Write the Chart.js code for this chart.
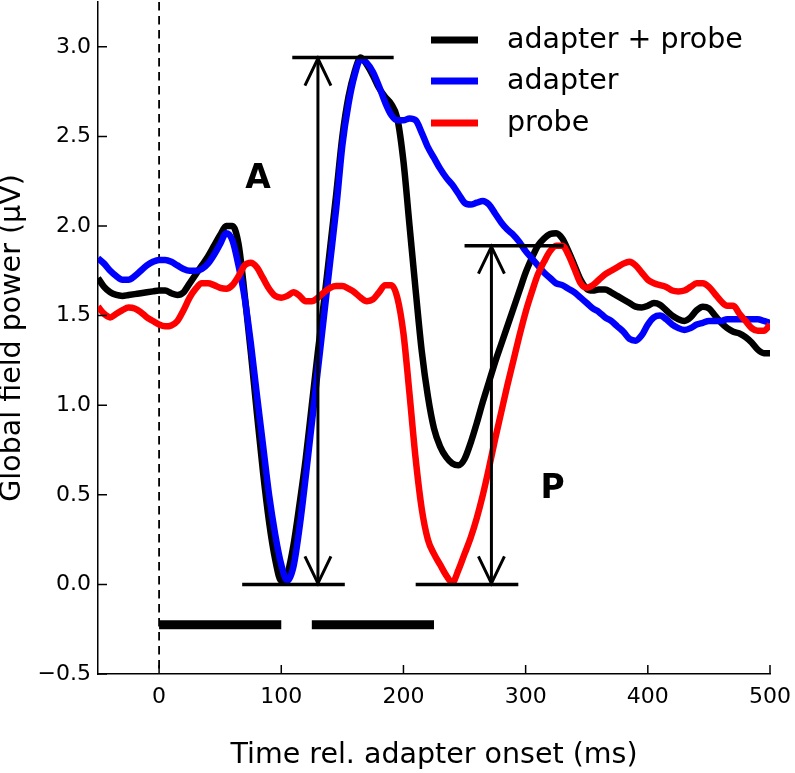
<!DOCTYPE html>
<html>
<head>
<meta charset="utf-8">
<script src="https://cdn.jsdelivr.net/npm/chart.js@4.4.1/dist/chart.umd.min.js"></script>
<style>
  html, body { margin: 0; padding: 0; background: #fff; }
</style>
</head>
<body>
<canvas id="gfp" width="795" height="773"></canvas>
<script>
// ===== Data =====
const timeMs = [
  -50, -45, -40, -35, -30, -25, -20, -15, -10, -5,
  0, 5, 10, 15, 20, 25, 30, 35, 40, 45,
  50, 55, 60, 65, 70, 75, 80, 85, 90, 95,
  100, 105, 110, 115, 120, 125, 130, 135, 140, 145,
  150, 155, 160, 165, 170, 175, 180, 185, 190, 195,
  200, 205, 210, 215, 220, 225, 230, 235, 240, 245,
  250, 255, 260, 265, 270, 275, 280, 285, 290, 295,
  300, 305, 310, 315, 320, 325, 330, 335, 340, 345,
  350, 355, 360, 365, 370, 375, 380, 385, 390, 395,
  400, 405, 410, 415, 420, 425, 430, 435, 440, 445,
  450, 455, 460, 465, 470, 475, 480, 485, 490, 495,
  500
];

const adapterProbe = [
  1.71, 1.66, 1.63, 1.615, 1.61, 1.615, 1.62, 1.625, 1.63, 1.635,
  1.64, 1.64, 1.625, 1.615, 1.63, 1.68, 1.73, 1.78, 1.83, 1.89,
  1.95, 2.00, 2.00, 1.90, 1.62, 1.30, 0.96, 0.63, 0.35, 0.14,
  0.02, 0.06, 0.22, 0.45, 0.70, 1.00, 1.30, 1.58, 1.88, 2.18,
  2.50, 2.72, 2.86, 2.94, 2.90, 2.84, 2.77, 2.72, 2.68, 2.60,
  2.36, 2.00, 1.64, 1.30, 1.05, 0.87, 0.77, 0.71, 0.675, 0.665,
  0.70, 0.79, 0.90, 1.02, 1.13, 1.24, 1.34, 1.44, 1.54, 1.64,
  1.74, 1.82, 1.89, 1.93, 1.955, 1.96, 1.93, 1.86, 1.78, 1.70,
  1.65, 1.64, 1.645, 1.645, 1.63, 1.61, 1.59, 1.57, 1.55, 1.545,
  1.555, 1.57, 1.56, 1.53, 1.50, 1.48, 1.47, 1.49, 1.53, 1.55,
  1.54, 1.50, 1.46, 1.43, 1.41, 1.40, 1.38, 1.35, 1.31, 1.29,
  1.29
];

const adapterOnly = [
  1.82, 1.79, 1.75, 1.72, 1.70, 1.70, 1.72, 1.75, 1.78, 1.80,
  1.81, 1.81, 1.80, 1.78, 1.76, 1.75, 1.75, 1.76, 1.79, 1.84,
  1.90, 1.96, 1.92, 1.78, 1.60, 1.35, 1.06, 0.78, 0.50, 0.28,
  0.11, 0.02, 0.10, 0.32, 0.60, 0.90, 1.20, 1.50, 1.80, 2.10,
  2.45, 2.68, 2.84, 2.93, 2.91, 2.86, 2.78, 2.69, 2.62, 2.59,
  2.59, 2.60, 2.59, 2.52, 2.44, 2.38, 2.32, 2.27, 2.23, 2.18,
  2.13, 2.12, 2.13, 2.14, 2.12, 2.07, 2.02, 1.98, 1.95, 1.91,
  1.86, 1.82, 1.78, 1.74, 1.71, 1.68, 1.67, 1.65, 1.63, 1.60,
  1.57, 1.54, 1.52, 1.49, 1.47, 1.44, 1.41, 1.37, 1.36, 1.39,
  1.45, 1.49, 1.50, 1.48, 1.45, 1.43, 1.42, 1.43, 1.45, 1.46,
  1.47, 1.47, 1.47, 1.48, 1.48, 1.48, 1.48, 1.48, 1.48, 1.47,
  1.46
];

const probeOnly = [
  1.55, 1.51, 1.49, 1.51, 1.53, 1.545, 1.54, 1.52, 1.49, 1.47,
  1.45, 1.44, 1.445, 1.47, 1.53, 1.60, 1.65, 1.68, 1.68, 1.67,
  1.655, 1.65, 1.67, 1.72, 1.78, 1.795, 1.77, 1.71, 1.65, 1.61,
  1.60, 1.61, 1.63, 1.61, 1.58, 1.58, 1.60, 1.63, 1.655, 1.665,
  1.665, 1.65, 1.63, 1.60, 1.58, 1.59, 1.63, 1.67, 1.67, 1.60,
  1.40, 1.06, 0.70, 0.42, 0.25, 0.17, 0.11, 0.05, 0.01, 0.08,
  0.17, 0.26, 0.37, 0.50, 0.65, 0.81, 0.96, 1.11, 1.25, 1.39,
  1.52, 1.63, 1.73, 1.80, 1.86, 1.89, 1.89, 1.84, 1.76, 1.68,
  1.655, 1.67, 1.70, 1.73, 1.75, 1.77, 1.79, 1.80, 1.78, 1.74,
  1.70, 1.68, 1.67, 1.66, 1.64, 1.635, 1.64, 1.66, 1.68, 1.68,
  1.66, 1.62, 1.58, 1.555, 1.555, 1.51, 1.47, 1.43, 1.415, 1.415,
  1.45
];

const seriesLabels = ['adapter + probe', 'adapter', 'probe'];
const seriesColors = ['#000000', '#0000ff', '#ff0000'];

const xTicks = [0, 100, 200, 300, 400, 500];
const yTicks = [-0.5, 0.0, 0.5, 1.0, 1.5, 2.0, 2.5, 3.0];

// amplitude markers (ms / µV)
const refLineY = [2.94, 0, 1.89, 0];
const refLineStart = [109, 68, 250, 210];
const refLineEnd = [192, 152, 331, 294];
const arrowX = [130, 272];
const arrowTop = [2.94, 1.89];
const peakNames = ['A', 'P'];
const peakNameX = [81, 322];
const peakNameY = [2.26, 0.53];

// stimulus bars (ms)
const barStart = [0, 125];
const barEnd = [100, 225];
const barLevel = -0.225;

const FONT = 'DejaVu Sans';

// ===== Extras: dashed onset, markers, inward ticks, legend =====
const figureExtras = {
    id: 'figureExtras',
    beforeDatasetsDraw(chart) {
        const { ctx, chartArea: a, scales: { x } } = chart;
        const x0 = x.getPixelForValue(0);
        ctx.save();
        ctx.strokeStyle = '#000';
        ctx.lineWidth = 1.8;
        ctx.setLineDash([8.5, 5.5]);
        ctx.beginPath();
        ctx.moveTo(x0, a.top);
        ctx.lineTo(x0, a.bottom);
        ctx.stroke();
        ctx.restore();
    },
    afterDatasetsDraw(chart) {
        const { ctx, scales: { x, y } } = chart;
        ctx.save();
        ctx.strokeStyle = '#000';
        ctx.lineCap = 'butt';

        // horizontal reference lines
        ctx.lineWidth = 3.5;
        refLineY.forEach((v, i) => {
            const py = y.getPixelForValue(v);
            ctx.beginPath();
            ctx.moveTo(x.getPixelForValue(refLineStart[i]), py);
            ctx.lineTo(x.getPixelForValue(refLineEnd[i]), py);
            ctx.stroke();
        });

        // double-headed arrows
        ctx.lineWidth = 3;
        ctx.lineJoin = 'miter';
        arrowX.forEach((t, i) => {
            const px = x.getPixelForValue(t);
            const top = y.getPixelForValue(arrowTop[i]);
            const bot = y.getPixelForValue(0);
            ctx.beginPath();
            ctx.moveTo(px, top);
            ctx.lineTo(px, bot);
            ctx.stroke();
            ctx.beginPath();
            ctx.moveTo(px - 13, top + 28);
            ctx.lineTo(px, top + 1);
            ctx.lineTo(px + 13, top + 28);
            ctx.moveTo(px - 13, bot - 28);
            ctx.lineTo(px, bot - 1);
            ctx.lineTo(px + 13, bot - 28);
            ctx.stroke();
        });

        // stimulus bars
        ctx.lineWidth = 9;
        barStart.forEach((t, i) => {
            const py = y.getPixelForValue(barLevel);
            ctx.beginPath();
            ctx.moveTo(x.getPixelForValue(t), py);
            ctx.lineTo(x.getPixelForValue(barEnd[i]), py);
            ctx.stroke();
        });

        // A / P labels
        ctx.fillStyle = '#000';
        ctx.font = 'bold 33px "' + FONT + '"';
        ctx.textAlign = 'center';
        ctx.textBaseline = 'middle';
        peakNames.forEach((s, i) => {
            ctx.fillText(s, x.getPixelForValue(peakNameX[i]), y.getPixelForValue(peakNameY[i]));
        });
        ctx.restore();
    },
    afterDraw(chart) {
        const { ctx, chartArea: a, scales: { x, y } } = chart;
        ctx.save();
        ctx.strokeStyle = '#000';
        ctx.lineWidth = 1.5;
        ctx.beginPath();
        xTicks.forEach(v => {
            const px = x.getPixelForValue(v);
            ctx.moveTo(px, a.bottom);
            ctx.lineTo(px, a.bottom - 9);
        });
        yTicks.forEach(v => {
            const py = y.getPixelForValue(v);
            ctx.moveTo(a.left, py);
            ctx.lineTo(a.left + 9, py);
        });
        ctx.stroke();

        // legend, upper right inside the axes
        const rows = [41, 82, 124];
        ctx.font = '28.5px "' + FONT + '"';
        ctx.textAlign = 'left';
        ctx.textBaseline = 'middle';
        ctx.fillStyle = '#000';
        ctx.lineWidth = 7;
        seriesLabels.forEach((s, i) => {
            ctx.strokeStyle = seriesColors[i];
            ctx.beginPath();
            ctx.moveTo(431, rows[i] - 1);
            ctx.lineTo(478, rows[i] - 1);
            ctx.stroke();
            ctx.fillText(s, 507, rows[i]);
        });
        ctx.restore();
    }
};

// ===== Chart =====
const seriesValues = [adapterProbe, adapterOnly, probeOnly];
const drawOrder = [3, 2, 1];

new Chart(document.getElementById('gfp').getContext('2d'), {
    type: 'line',
    data: {
        datasets: seriesValues.map((vals, i) => ({
            label: seriesLabels[i],
            data: timeMs.map((t, j) => ({ x: t, y: vals[j] })),
            borderColor: seriesColors[i],
            borderWidth: 6.5,
            pointRadius: 0,
            cubicInterpolationMode: 'monotone',
            borderJoinStyle: 'round',
            fill: false,
            order: drawOrder[i]
        }))
    },
    options: {
        responsive: false,
        animation: false,
        devicePixelRatio: 1,
        layout: { padding: { top: 2, right: 25, bottom: 0, left: 0 } },
        plugins: {
            legend: { display: false },
            tooltip: { enabled: false }
        },
        scales: {
            x: {
                type: 'linear',
                min: -50,
                max: 500,
                afterBuildTicks: (s) => { s.ticks = xTicks.map(v => ({ value: v })); },
                afterFit: (s) => {
                    s.height = 99;
                    s.paddingLeft = 0;
                    s.paddingRight = 0;
                },
                grid: { display: false, drawTicks: false },
                border: { display: true, color: '#000', width: 1.5 },
                ticks: {
                    color: '#000',
                    padding: 10,
                    maxRotation: 0,
                    font: { family: FONT, size: 22 }
                },
                title: {
                    display: true,
                    text: 'Time rel. adapter onset (ms)',
                    color: '#000',
                    padding: 0,
                    font: { family: FONT, size: 28.5, lineHeight: 1.2 }
                }
            },
            y: {
                type: 'linear',
                min: -0.5,
                max: 3.25,
                afterBuildTicks: (s) => { s.ticks = yTicks.map(v => ({ value: v })); },
                afterFit: (s) => {
                    s.width = 98;
                    s.paddingTop = 0;
                    s.paddingBottom = 0;
                },
                grid: { display: false, drawTicks: false },
                border: { display: true, color: '#000', width: 1.5 },
                ticks: {
                    color: '#000',
                    padding: 7,
                    font: { family: FONT, size: 22 },
                    callback: (v) => (v < 0 ? '\u2212' : '') + Math.abs(v).toFixed(1)
                },
                title: {
                    display: true,
                    text: 'Global field power (\u03bcV)',
                    color: '#000',
                    padding: 0,
                    font: { family: FONT, size: 28.5, lineHeight: 0.85 }
                }
            }
        }
    },
    plugins: [figureExtras]
});
</script>
</body>
</html>
